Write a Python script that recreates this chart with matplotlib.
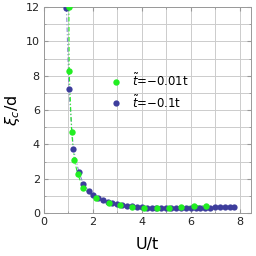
import matplotlib
matplotlib.use("Agg")
import matplotlib.pyplot as plt
from matplotlib.ticker import MultipleLocator

# t~ = -0.01t
u_green = [1.02, 1.03, 1.13, 1.24, 1.38, 1.61, 2.13, 2.65, 3.11, 3.59, 4.11, 4.62, 5.12, 5.6, 6.12, 6.63]
xi_green = [12.0, 8.25, 4.72, 3.1, 2.26, 1.44, 0.86, 0.6, 0.47, 0.37, 0.31, 0.27, 0.31, 0.35, 0.41, 0.43]

# t~ = -0.1t
u_blue = [0.92, 1.02, 1.2, 1.43, 1.61, 1.83, 2.0, 2.2, 2.4, 2.6, 2.8, 3.0, 3.2, 3.4, 3.6, 3.8,
          4.0, 4.2, 4.4, 4.6, 4.8, 5.0, 5.2, 5.4, 5.6, 5.8, 6.0, 6.2, 6.4, 6.6, 6.8, 7.0,
          7.2, 7.4, 7.6, 7.76]
xi_blue = [11.97, 7.2, 3.74, 2.36, 1.7, 1.29, 1.03, 0.88, 0.76, 0.66, 0.57, 0.5, 0.45, 0.41, 0.38, 0.35,
           0.33, 0.31, 0.3, 0.29, 0.28, 0.28, 0.28, 0.28, 0.29, 0.29, 0.3, 0.3, 0.31, 0.32, 0.32, 0.33,
           0.34, 0.35, 0.36, 0.37]

green = '#22ee22'
blue = '#3d3d9c'

fig = plt.figure(figsize=(2.56, 2.56), dpi=100)
ax = fig.add_axes([44/256, 43/256, 207/256, 206/256])

ax.plot(u_blue, xi_blue, linestyle=(0, (4, 2, 1, 2)), color='#8888cc', lw=0.8, zorder=2)
ax.plot(u_green, xi_green, linestyle=(0, (4, 2, 1, 2)), color=green, lw=0.8, zorder=3)
ax.plot(u_blue, xi_blue, 'o', color=blue, ms=4.5, mec='none', zorder=4,
        label=r'$\tilde{t}$=$-$0.1t')
ax.plot(u_green, xi_green, 'o', color=green, ms=4.6, mec='none', zorder=5,
        label=r'$\tilde{t}$=$-$0.01t')

ax.set_xlim(0, 8.47)
ax.set_ylim(0, 12)
ax.xaxis.set_major_locator(MultipleLocator(2))
ax.xaxis.set_minor_locator(MultipleLocator(1))
ax.yaxis.set_major_locator(MultipleLocator(2))
ax.yaxis.set_minor_locator(MultipleLocator(1))
ax.grid(True, which='both', color='#cccccc', lw=0.7)
ax.set_axisbelow(True)
ax.tick_params(which='both', direction='in', top=True, right=True, labelsize=8, pad=3,
               color='#999999', labelcolor='#222222')
ax.tick_params(which='major', length=3)
ax.tick_params(which='minor', length=1.5)
for s in ax.spines.values():
    s.set_color('#999999')
    s.set_linewidth(0.7)

h, l = ax.get_legend_handles_labels()
ax.legend(h[::-1], l[::-1], loc='upper left', bbox_to_anchor=(0.29, 0.71), frameon=False,
          fontsize=8.5, handletextpad=0.9, borderpad=0, labelspacing=0.45,
          handlelength=1.0, markerscale=1.0)

ax.set_xlabel('U/t', fontsize=11.5, labelpad=7)
ax.set_ylabel(r'$\xi_c$/d', fontsize=11.5, labelpad=3)

fig.savefig('out.png', dpi=100)
